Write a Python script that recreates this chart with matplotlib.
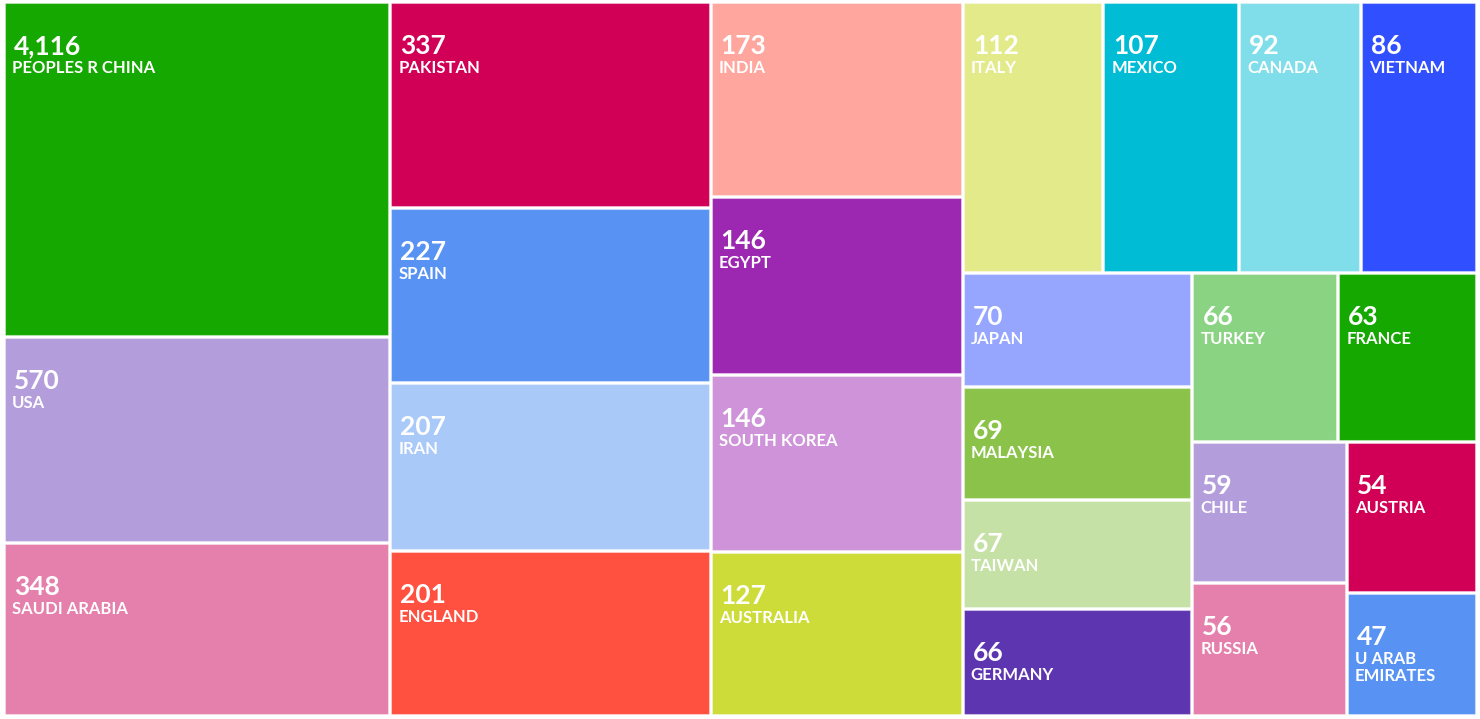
import numpy as np
import matplotlib
matplotlib.use("Agg")
import matplotlib.pyplot as plt
from matplotlib.patches import Rectangle

# records per country (top 25)
countries = ["PEOPLES R CHINA", "USA", "SAUDI ARABIA", "PAKISTAN", "SPAIN", "IRAN",
             "ENGLAND", "INDIA", "EGYPT", "SOUTH KOREA", "AUSTRALIA", "ITALY",
             "MEXICO", "CANADA", "VIETNAM", "JAPAN", "MALAYSIA", "TAIWAN",
             "GERMANY", "TURKEY", "FRANCE", "CHILE", "RUSSIA", "AUSTRIA",
             "U ARAB\nEMIRATES"]
counts = [4116, 570, 348, 337, 227, 207, 201, 173, 146, 146, 127, 112,
          107, 92, 86, 70, 69, 67, 66, 66, 63, 59, 56, 54, 47]
colors = ["#14a800", "#b39ddb", "#e57fab", "#d10056", "#5893f4", "#a9c9f9",
          "#ff5040", "#ffa69e", "#9c27b0", "#ce93d8", "#cddc39", "#e3ea8a",
          "#00bcd4", "#80deea", "#304ffe", "#96a6ff", "#8bc34a", "#c5e1a5",
          "#5e35b1", "#8ad383", "#14a800", "#b39ddb", "#e57fab", "#d10056",
          "#5893f4"]

W, H = 1480, 719
GAP = 3


# squarified treemap, d3 style with a target ratio
def squarify(values, x0, y0, x1, y1, ratio=1.67):
    out = []
    total = float(sum(values))
    i0 = 0
    n = len(values)
    while i0 < n:
        dx, dy = x1 - x0, y1 - y0
        i1 = i0 + 1
        s = values[i0]
        vmin = vmax = s
        alpha = max(dy / dx, dx / dy) / (total * ratio)
        beta = s * s * alpha
        best = max(vmax / beta, beta / vmin)
        while i1 < n:
            v = values[i1]
            s2 = s + v
            beta = s2 * s2 * alpha
            r = max(max(vmax, v) / beta, beta / min(vmin, v))
            if r > best:
                break
            s, best = s2, r
            vmin, vmax = min(vmin, v), max(vmax, v)
            i1 += 1
        row = values[i0:i1]
        if dx < dy:
            # row across the top
            h = dy * s / total
            x = x0
            for v in row:
                w = dx * v / s
                out.append((x, y0, w, h))
                x += w
            y0 += h
        else:
            # column on the left
            w = dx * s / total
            y = y0
            for v in row:
                h = dy * v / s
                out.append((x0, y, w, h))
                y += h
            x0 += w
        total -= s
        i0 = i1
    return out


# box area follows a log scale of the record count
weights = list(np.log(np.array(counts, dtype=float)) - np.log(25.0))
rects = squarify(weights, 5, 3, W - 2, H - 2)

fig = plt.figure(figsize=(W / 100, H / 100), dpi=100)
ax = fig.add_axes([0, 0, 1, 1])
ax.set_xlim(0, W)
ax.set_ylim(H, 0)
ax.axis("off")

for (rx, ry, rw, rh), name, n, c in zip(rects, countries, counts, colors):
    ax.add_patch(Rectangle((rx, ry), rw - GAP, rh - GAP, facecolor=c,
                           edgecolor=(1, 1, 1, 0.35), linewidth=0.8))
    ax.text(rx + 9, ry + 51, f"{n:,}", color="white", fontsize=19, fontweight="bold",
            family="Lato", va="baseline", ha="left")
    ax.text(rx + 7, ry + 57, name, color="white", fontsize=12, fontweight="bold",
            family="Lato", va="top", ha="left", linespacing=1.1)

fig.savefig("out.png", dpi=100, facecolor="white")
